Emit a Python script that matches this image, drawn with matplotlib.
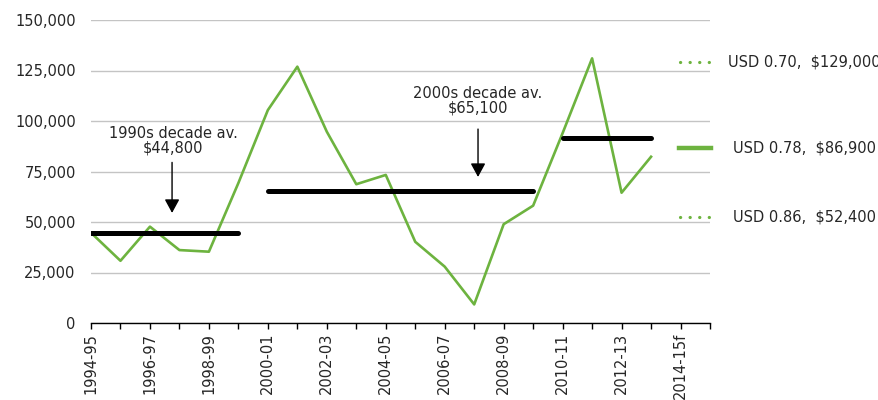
import matplotlib
matplotlib.use("Agg")
import matplotlib.pyplot as plt
from matplotlib.lines import Line2D
from matplotlib.ticker import FuncFormatter

plt.rcParams['font.family'] = ['DejaVu Sans']

# financial years, last one is a forecast
years = ["1994-95", "1995-96", "1996-97", "1997-98", "1998-99", "1999-00",
         "2000-01", "2001-02", "2002-03", "2003-04", "2004-05", "2005-06",
         "2006-07", "2007-08", "2008-09", "2009-10", "2010-11", "2011-12",
         "2012-13", "2013-14", "2014-15f"]

# average farm cash income ($), no figure yet for 2014-15f
income = [44700, 30800, 47700, 36100, 35300, 69300,
          105400, 126900, 94700, 68700, 73300, 40200,
          27900, 9200, 48900, 58100, 94000, 131000,
          64500, 82300]

# decade averages: (first index, last index, value)
decades = [(0, 5, 44800), (6, 15, 65100), (16, 19, 91700)]

# forecast scenarios for the exchange rate
scen_labels = ["USD 0.70,  $129,000", "USD 0.78,  $86,900", "USD 0.86,  $52,400"]
scen_styles = ["dotted", "solid", "dotted"]

green = "#6db33f"
txt_col = "#262626"

fig = plt.figure(figsize=(8.79, 4.0), dpi=100)
ax = fig.add_axes([91 / 879, 1 - 323 / 400, (710 - 91) / 879, (323 - 20) / 400])

ax.plot(range(len(income)), income, color=green, lw=1.9, zorder=3)

for a, b, v in decades:
    ax.plot([a, b], [v, v], color="black", lw=3.6, solid_capstyle="round", zorder=4)

ax.set_xlim(0, len(years))
ax.set_ylim(0, 150000)
ax.set_yticks(range(0, 150001, 25000))
ax.yaxis.set_major_formatter(FuncFormatter(lambda v, p: f"{int(v):,}"))
ax.set_xticks(range(len(years) + 1))
ax.set_xticklabels([y if i % 2 == 0 else "" for i, y in enumerate(years)] + [""],
                   rotation=90)
ax.tick_params(axis="y", length=0, pad=11, labelsize=10.5, labelcolor=txt_col)
ax.tick_params(axis="x", length=4, width=1, direction="out", pad=3,
               labelsize=10.5, labelcolor=txt_col)
ax.grid(axis="y", color="#c4c4c4", lw=1)
ax.set_axisbelow(True)
for s in ["top", "right", "left"]:
    ax.spines[s].set_visible(False)
ax.spines["bottom"].set_color("black")
ax.spines["bottom"].set_linewidth(1)

# decade labels with arrows
arrow = dict(arrowstyle="-|>,head_length=0.55,head_width=0.3", color="black",
             lw=1, mutation_scale=15, shrinkA=0, shrinkB=0)
ax.text(2.78, 90000, "1990s decade av.\n$44,800", ha="center", va="center",
        fontsize=10.5, color=txt_col, linespacing=0.95)
ax.annotate("", xy=(2.75, 54500), xytext=(2.75, 79500), arrowprops=arrow)
ax.text(13.13, 110000, "2000s decade av.\n$65,100", ha="center", va="center",
        fontsize=10.5, color=txt_col, linespacing=0.95)
ax.annotate("", xy=(13.13, 72300), xytext=(13.13, 96000), arrowprops=arrow)

# scenario key on the right
key_y = [62, 148, 217]
key_tx = [728, 733, 733]
for lab, st, yy, tx in zip(scen_labels, scen_styles, key_y, key_tx):
    fy = 1 - yy / 400
    if st == "dotted":
        ln = Line2D([680 / 879, 712 / 879], [fy, fy], color=green, lw=2.3,
                    linestyle=(0, (0.05, 2.95)), dash_capstyle="round")
    else:
        ln = Line2D([679 / 879, 711 / 879], [fy, fy], color=green, lw=3.2)
    fig.add_artist(ln)
    fig.text(tx / 879, fy, lab, ha="left", va="center", fontsize=10.5, color=txt_col)

fig.savefig("out.png", dpi=100)
